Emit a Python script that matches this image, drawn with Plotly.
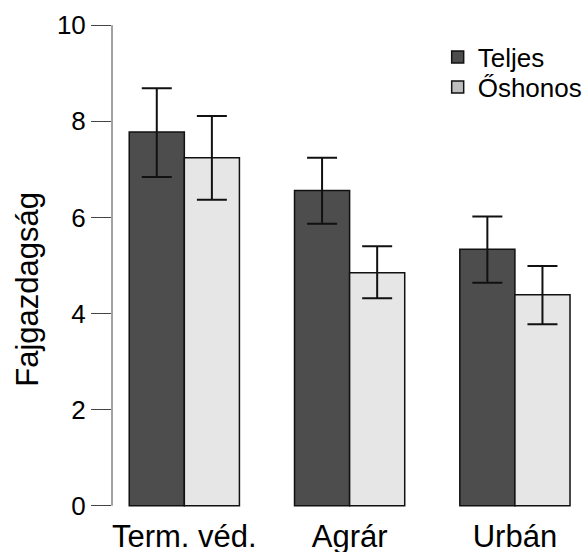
import plotly.graph_objects as go

categories = ["Term. véd.", "Agrár", "Urbán"]
series_names = ["Teljes", "Őshonos"]
teljes = [7.78, 6.56, 5.34]
teljes_up = [0.91, 0.68, 0.68]
teljes_down = [0.94, 0.69, 0.70]
oshonos = [7.24, 4.85, 4.39]
oshonos_up = [0.87, 0.55, 0.60]
oshonos_down = [0.87, 0.53, 0.61]
y_ticks = [0, 2, 4, 6, 8, 10]
y_title = "Fajgazdagság"

bar_colors = ["#4d4d4d", "#e6e6e6"]
legend_colors = ["#4d4d4d", "#bebebe"]
groups = ["a", "b"]
legends = ["legend", "legend2"]

fig = go.Figure()
for name, vals, up, dn, col, g in [
    (series_names[0], teljes, teljes_up, teljes_down, bar_colors[0], groups[0]),
    (series_names[1], oshonos, oshonos_up, oshonos_down, bar_colors[1], groups[1]),
]:
    fig.add_trace(go.Bar(
        x=categories, y=vals, name=name, showlegend=False, offsetgroup=g,
        marker=dict(color=col, line=dict(color="#111111", width=1.5)),
        error_y=dict(type="data", array=up, arrayminus=dn, symmetric=False,
                     color="#111111", thickness=2, width=15),
    ))
for name, col, g, lg in zip(series_names, legend_colors, groups, legends):
    fig.add_trace(go.Bar(
        x=[None], y=[None], name=name, showlegend=True, offsetgroup=g,
        legend=lg,
        marker=dict(color=col, line=dict(color="#111111", width=1.5)),
    ))

fig.add_shape(type="line", xref="paper", yref="y", x0=0, x1=0,
              y0=y_ticks[0], y1=y_ticks[-1], line=dict(color="#444444", width=1))

fig.add_annotation(text=y_title, textangle=-90, xref="paper", yref="paper",
                   x=-0.1807, y=0.4547, xanchor="center", yanchor="middle",
                   showarrow=False, font=dict(size=31))

legend_common = dict(xanchor="left", yanchor="middle", font=dict(size=26),
                     bgcolor="rgba(0,0,0,0)", itemwidth=30)

fig.update_layout(
    width=588, height=552,
    margin=dict(l=112, r=0, t=6, b=27),
    paper_bgcolor="white", plot_bgcolor="white",
    barmode="group", bargap=1/3, bargroupgap=0,
    font=dict(family="Liberation Sans, Arial, sans-serif", color="black"),
    xaxis=dict(range=[-0.4376, 2.418], showline=False, showgrid=False,
               zeroline=False, ticks="", tickfont=dict(size=31),
               ticklabelstandoff=-10, automargin=False),
    yaxis=dict(range=[-0.4, 10.4], tickvals=y_ticks, showline=False,
               showgrid=False, zeroline=False, ticks="outside", ticklen=20,
               tickcolor="#444444", tickwidth=1, tickfont=dict(size=26),
               automargin=False),
    legend=dict(x=0.69, y=0.9017, **legend_common),
    legend2=dict(x=0.69, y=0.8439, **legend_common),
)

fig.write_html("out.html")
